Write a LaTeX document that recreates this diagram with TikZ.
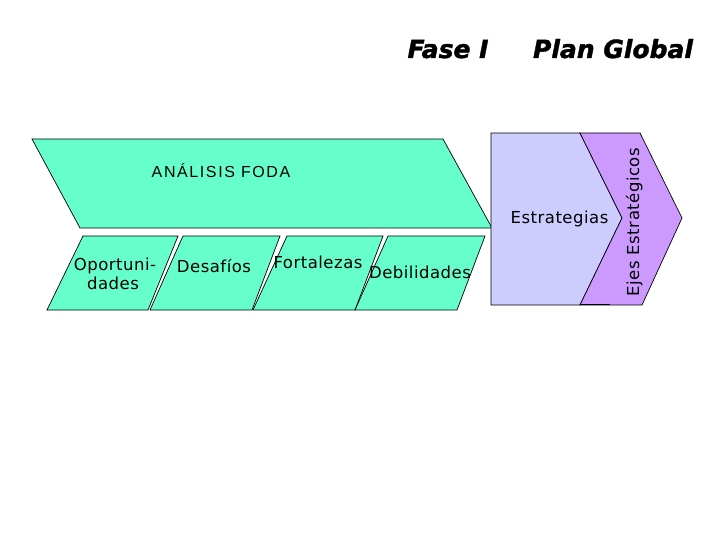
\documentclass[tikz,border=0pt]{standalone}
\usepackage{fontspec}
\newfontfamily\vfont[LetterSpace=3]{DejaVu Sans}
\newfontfamily\afont[LetterSpace=10]{Liberation Sans}
\newfontfamily\tfont{DejaVu Sans}[BoldItalicFeatures={FakeBold=1.6}]
\definecolor{foda}{HTML}{66FFCC}
\definecolor{lav}{HTML}{CCCCFF}
\definecolor{purp}{HTML}{CC99FF}
\begin{document}
\begin{tikzpicture}[x=1bp,y=-1bp,
  panel/.style={draw=black,line width=0.7pt,line join=miter},
  lbl/.style={inner sep=0pt,font=\vfont\fontsize{16.5bp}{19bp}\selectfont,text=black},
  ttl/.style={inner sep=0pt,anchor=base,font=\tfont\bfseries\itshape\fontsize{25bp}{30bp}\selectfont}]
\useasboundingbox (0,0) rectangle (720,540);
\fill[white] (0,0) rectangle (720,540);
% titles
\node[ttl] (f) at (448,58) {Fase I};
\node[ttl] (p) at (613,58) {Plan Global};
% big parallelogram
\filldraw[panel,fill=foda] (32,139) -- (443,139) -- (492,228) -- (80,228) -- cycle;
\node[inner sep=0pt,anchor=base,font=\afont\fontsize{16bp}{19bp}\selectfont] (foda) at (221,178) {ANÁLISIS FODA};
% small parallelograms
\filldraw[panel,fill=foda] (83,236) -- (178,236) -- (148,310) -- (47,310) -- cycle;
\filldraw[panel,fill=foda] (183,236) -- (280,236) -- (252,310) -- (150,310) -- cycle;
\filldraw[panel,fill=foda] (287,236) -- (383,236) -- (355,310) -- (253,310) -- cycle;
\filldraw[panel,fill=foda] (388,236) -- (485,236) -- (457,310) -- (355,310) -- cycle;
\node[lbl,anchor=base] (op1) at (115,271) {Oportuni-};
\node[lbl,anchor=base] (op2) at (113,289) {dades};
\node[lbl,anchor=base] (des) at (214,273) {Desafíos};
\node[lbl,anchor=base] (fort) at (318,269) {Fortalezas};
\node[lbl,anchor=base] (deb) at (420,279) {Debilidades};
% strategies
\filldraw[panel,fill=lav] (491,133) -- (580,133) -- (622,218) -- (580,305) -- (491,305) -- cycle;
\filldraw[panel,fill=purp] (580,133) -- (640,133) -- (682,218) -- (642,305) -- (580,305) -- (622,218) -- cycle;
\draw[line width=1.4pt] (580,304.5) -- (610,304.5);
\node[lbl,anchor=base] (est) at (559.5,224) {Estrategias};
\node[lbl,anchor=base,rotate=90] (ejes) at (639,222) {Ejes Estratégicos};
\end{tikzpicture}
\end{document}
